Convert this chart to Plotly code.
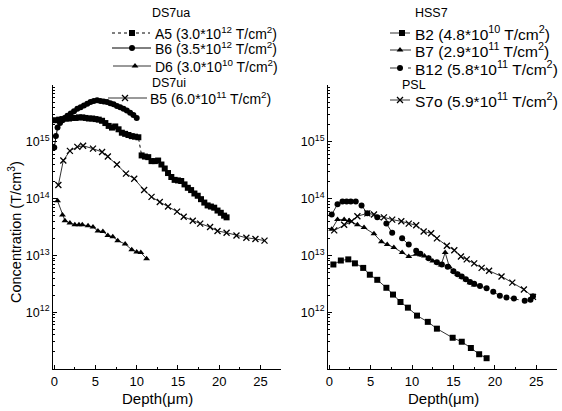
import plotly.graph_objects as go

# ---------------- data (log10 of concentration, T/cm^3) ----------------
a5_depth = [0.2,0.6,1.0,1.4,1.8,2.2,2.6,3.0,3.4,3.8,4.2,4.6,5.0,5.4,5.8,6.2,6.6,7.0,7.4,7.8,8.2,8.6,9.0,9.4,9.8,10.2,
            10.6,11.0,11.4,11.8,12.2,12.6,13.0,13.4,13.8,14.2,14.6,15.0,15.4,15.8,16.2,16.6,17.0,17.4,17.8,18.2,18.6,19.0,19.4,19.8,20.2,20.6,20.9]
a5_log = [15.38,15.39,15.40,15.41,15.41,15.42,15.42,15.43,15.43,15.42,15.41,15.41,15.40,15.39,15.37,15.33,15.28,15.25,15.27,15.22,15.16,15.14,15.12,15.10,15.09,15.08,
          14.76,14.74,14.73,14.66,14.66,14.67,14.60,14.53,14.45,14.38,14.33,14.32,14.31,14.25,14.19,14.15,14.09,14.05,13.99,13.93,13.88,13.86,13.84,13.79,13.75,13.70,13.67]

b6_depth = [0.0,0.2,0.4,0.7,1.0,1.3,1.6,2.0,2.4,2.8,3.2,3.6,4.0,4.4,4.8,5.2,5.6,6.0,6.4,6.8,7.2,7.6,8.0,8.4,8.8,9.2,9.6,10.0]
b6_log = [14.90,15.10,15.25,15.33,15.38,15.42,15.46,15.50,15.54,15.58,15.61,15.64,15.67,15.70,15.72,15.73,15.72,15.71,15.70,15.68,15.66,15.63,15.61,15.58,15.55,15.51,15.47,15.42]

d6_depth = [0.4,1.0,1.3,1.9,2.5,3.0,3.4,4.1,4.7,5.3,5.9,6.5,7.1,7.7,8.6,9.4,10.0,10.5,11.2]
d6_log = [13.96,13.71,13.61,13.57,13.54,13.54,13.54,13.52,13.50,13.43,13.42,13.35,13.33,13.26,13.20,13.10,13.06,13.05,12.94]

b5_depth = [0.5,1.1,1.9,2.8,3.5,4.7,5.8,6.5,7.6,8.7,9.7,10.9,11.8,12.8,13.8,14.9,15.7,16.8,17.7,18.9,19.8,20.9,22.1,23.3,24.4,25.5]
b5_log = [14.24,14.67,14.84,14.91,14.93,14.88,14.82,14.74,14.60,14.44,14.35,14.15,14.03,13.94,13.86,13.77,13.68,13.61,13.56,13.50,13.43,13.40,13.35,13.31,13.29,13.26]

b2_depth = [0.5,1.4,2.3,3.1,4.1,4.9,5.8,6.9,7.7,8.6,9.5,10.6,11.9,13.0,14.9,16.0,17.1,18.1,19.0]
b2_log = [12.84,12.91,12.93,12.86,12.78,12.66,12.57,12.43,12.31,12.18,12.08,11.94,11.83,11.71,11.55,11.48,11.37,11.26,11.19]

b7_depth = [0.3,1.0,1.8,2.4,3.4,4.2,5.4,6.3,7.0,7.8,8.8,9.6,10.5,11.0,11.5,12.0,12.5,13.0,13.5,14.0,14.5,15.0,15.5,16.0,16.5,17.0,17.5]
b7_log = [13.46,13.63,13.63,13.61,13.54,13.49,13.38,13.24,13.19,13.14,13.05,12.98,13.02,13.01,12.99,12.95,12.90,12.87,12.83,13.05,12.80,12.72,12.67,12.62,12.57,12.52,12.48]

b12_depth = [0.3,1.0,1.6,2.1,2.6,3.2,3.9,4.6,5.8,6.9,7.6,8.8,9.6,10.5,11.0,12.0,13.0,13.6,14.3,15.0,15.5,16.0,16.5,17.0,17.5,18.2,19.0,19.8,20.6,21.4,22.3,23.6,24.3,24.6]
b12_log = [13.72,13.90,13.95,13.95,13.95,13.95,13.88,13.74,13.67,13.56,13.40,13.30,13.19,13.08,13.03,12.95,12.88,12.84,12.80,12.72,12.67,12.63,12.58,12.53,12.50,12.46,12.42,12.36,12.29,12.26,12.24,12.20,12.22,12.28]

s7o_depth = [0.6,1.8,2.7,3.4,4.6,5.4,6.6,7.6,8.7,9.6,10.5,11.4,12.3,13.0,14.2,15.1,15.9,16.6,17.5,18.4,19.3,20.8,22.1,23.5,24.6]
s7o_log = [13.44,13.54,13.60,13.69,13.74,13.72,13.67,13.63,13.60,13.56,13.53,13.42,13.39,13.30,13.17,13.09,12.98,12.93,12.86,12.78,12.73,12.63,12.52,12.40,12.27]

series_names = {
    "A5": "A5 (3.0*10<sup>12</sup> T/cm<sup>2</sup>)",
    "B6": "B6 (3.5*10<sup>12</sup> T/cm<sup>2</sup>)",
    "D6": "D6 (3.0*10<sup>10</sup> T/cm<sup>2</sup>)",
    "B5": "B5 (6.0*10<sup>11</sup> T/cm<sup>2</sup>)",
    "B2": "B2 (4.8*10<sup>10</sup> T/cm<sup>2</sup>)",
    "B7": "B7 (2.9*10<sup>11</sup> T/cm<sup>2</sup>)",
    "B12": "B12 (5.8*10<sup>11</sup> T/cm<sup>2</sup>)",
    "S7o": "S7o (5.9*10<sup>11</sup> T/cm<sup>2</sup>)",
}
group_titles_left = ["DS7ua", "DS7ui"]
group_titles_right = ["HSS7", "PSL"]

major_tick_vals = [1e11, 1e12, 1e13, 1e14, 1e15, 1e16]
major_tick_text = ["", "10<sup>12</sup>", "10<sup>13</sup>", "10<sup>14</sup>", "10<sup>15</sup>", ""]
x_tick_vals = [0, 5, 10, 15, 20, 25]

FONT = "Liberation Sans, Arial, sans-serif"
W, H = 562, 411


def conc(logs):
    return [10 ** v for v in logs]


styles = {
    "A5": dict(symbol="square", dash="dot", width=1),
    "B6": dict(symbol="circle", dash="solid", width=1),
    "D6": dict(symbol="triangle-up", dash="solid", width=0.8),
    "B5": dict(symbol="x-thin", dash="solid", width=0.8),
    "B2": dict(symbol="square", dash="solid", width=0.8),
    "B7": dict(symbol="triangle-up", dash="solid", width=0.8),
    "B12": dict(symbol="circle", dash="dash", width=0.8),
    "S7o": dict(symbol="x-thin", dash="solid", width=0.8),
}


def marker_for(key, size=6):
    st = styles[key]
    m = dict(symbol=st["symbol"], size=size, color="black")
    if st["symbol"] == "x-thin":
        m["line"] = dict(color="black", width=1.3)
    return m


fig = go.Figure()

def add(key, x, logs, xa, ya):
    st = styles[key]
    fig.add_trace(go.Scatter(
        x=x, y=conc(logs), name=series_names[key], mode="lines+markers",
        line=dict(color="black", width=st["width"], dash=st["dash"]),
        marker=marker_for(key), xaxis=xa, yaxis=ya, showlegend=False,
    ))

add("A5", a5_depth, a5_log, "x", "y")
add("B6", b6_depth, b6_log, "x", "y")
add("D6", d6_depth, d6_log, "x", "y")
add("B5", b5_depth, b5_log, "x", "y")
add("B2", b2_depth, b2_log, "x2", "y2")
add("B7", b7_depth, b7_log, "x2", "y2")
add("B12", b12_depth, b12_log, "x2", "y2")
add("S7o", s7o_depth, s7o_log, "x2", "y2")

# ---------------- hand-built legends (pixel layout on an overlay axis) ----------------
# (key, row y px, line x0, line x1, marker x, text x, font size)
legend_rows = [
    ("A5", 33, 112, 150, 132, 153, 14),
    ("B6", 48, 112, 151, 132, 153, 14),
    ("D6", 66, 113, 151, 135, 153, 14),
    ("B5", 98, 108, 147, 125, 148, 14),
    ("B2", 33, 390, 410, 402, 413, 15.5),
    ("B7", 50, 390, 411, 400, 413, 15.5),
    ("B12", 68, 390, 411, 400, 413, 15.5),
    ("S7o", 100, 390, 410, 400, 413, 15.5),
]
# (text, x px, y px, size)
legend_titles = [
    (group_titles_left[0], 150, 13, 12.5),
    (group_titles_left[1], 150, 83, 12.5),
    (group_titles_right[0], 413, 13, 12.5),
    (group_titles_right[1], 400, 85, 12.5),
]

annotations = []
for key, yy, lx0, lx1, mx, tx, fs in legend_rows:
    st = styles[key]
    fig.add_trace(go.Scatter(x=[lx0, lx1], y=[yy, yy], mode="lines", xaxis="x3", yaxis="y3",
                             line=dict(color="black", width=st["width"], dash=st["dash"]),
                             showlegend=False, hoverinfo="skip"))
    fig.add_trace(go.Scatter(x=[mx], y=[yy], mode="markers", xaxis="x3", yaxis="y3",
                             marker=marker_for(key), showlegend=False, hoverinfo="skip"))
    annotations.append(dict(text=series_names[key], x=tx / W, y=1 - yy / H, xref="paper", yref="paper",
                            xanchor="left", yanchor="middle", showarrow=False,
                            font=dict(size=fs, family=FONT, color="black")))
for txt, tx, ty, fs in legend_titles:
    annotations.append(dict(text=txt, x=tx / W, y=1 - ty / H, xref="paper", yref="paper",
                            xanchor="left", yanchor="middle", showarrow=False,
                            font=dict(size=fs, family=FONT, color="black")))

annotations.append(dict(text="Concentration (T/cm<sup>3</sup>)", x=15 / W, y=1 - 232 / H,
                        xref="paper", yref="paper", textangle=-90, showarrow=False,
                        xanchor="center", yanchor="middle",
                        font=dict(size=14.5, family=FONT, color="black")))
annotations.append(dict(text="Depth(μm)", x=157 / W, y=1 - 398 / H, xref="paper", yref="paper",
                        showarrow=False, xanchor="center", yanchor="middle",
                        font=dict(size=15, family=FONT, color="black")))
annotations.append(dict(text="Depth(μm)", x=443 / W, y=1 - 398 / H, xref="paper", yref="paper",
                        showarrow=False, xanchor="center", yanchor="middle",
                        font=dict(size=15, family=FONT, color="black")))

minor_vals = [k * 10 ** n for n in range(11, 16) for k in range(2, 10)]

yax = dict(type="log", range=[11, 16], showline=True, linecolor="black", linewidth=1,
           ticks="inside", ticklen=4, tickcolor="black", tickmode="array",
           tickvals=major_tick_vals, ticktext=major_tick_text, automargin=False,
           minor=dict(ticks="inside", ticklen=2, tickcolor="black", tickmode="array", tickvals=minor_vals),
           showgrid=False, zeroline=False, tickfont=dict(size=12.5, family=FONT, color="black"))
xax = dict(range=[-0.15, 27.5], showline=True, linecolor="black", linewidth=1,
           ticks="inside", ticklen=4, tickcolor="black", tickmode="array", tickvals=x_tick_vals,
           minor=dict(ticks="inside", ticklen=2, tickcolor="black", dtick=2.5), automargin=False,
           showgrid=False, zeroline=False, tickfont=dict(size=13, family=FONT, color="black"))

fig.update_layout(
    width=W, height=H, margin=dict(l=0, r=0, t=0, b=0, autoexpand=False),
    paper_bgcolor="white", plot_bgcolor="rgba(0,0,0,0)",
    font=dict(family=FONT, color="black", size=12),
    showlegend=False,
    xaxis=dict(xax, domain=[53 / W, 281 / W], anchor="y"),
    yaxis=dict(yax, domain=[1 - 369 / H, 1 - 85 / H], anchor="x"),
    xaxis2=dict(xax, domain=[328 / W, 557 / W], anchor="y2"),
    yaxis2=dict(yax, domain=[1 - 369 / H, 1 - 85 / H], anchor="x2"),
    xaxis3=dict(domain=[0, 1], range=[0, W], visible=False, fixedrange=True, anchor="y3"),
    yaxis3=dict(domain=[0, 1], range=[H, 0], visible=False, fixedrange=True, anchor="x3"),
    annotations=annotations,
)

fig.write_html("out.html", config={"displayModeBar": False},
               post_script="document.body.style.margin='0px';document.body.style.overflow='hidden';")
